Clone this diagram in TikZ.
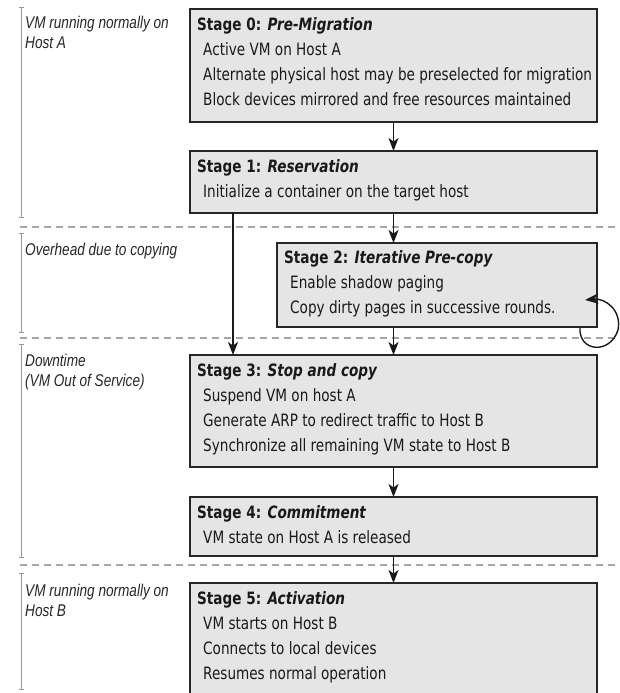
\documentclass[tikz,border=0pt]{standalone}
\usepackage{fontspec}
\setmainfont{DejaVu Sans}[FakeStretch=0.8]
\newfontfamily\labelfont{Liberation Sans}[FakeStretch=0.8]
\usetikzlibrary{arrows.meta,calc}
\begin{document}
\begin{tikzpicture}[x=1pt,y=-1pt,
  stagebox/.style={draw=black!85, line width=1.5pt, fill=gray!20, inner sep=0pt, outer sep=0pt, anchor=north west, minimum width=407pt},
  stagetext/.style={anchor=north west, inner sep=0pt, align=left, text=black!90, font=\fontsize{17}{25}\selectfont},
  lbl/.style={anchor=north west, inner sep=0pt, align=left, text=black!85, font=\labelfont\itshape\fontsize{17}{20}\selectfont},
  bracket/.style={draw=gray!80, line width=1pt, {Bar[width=5pt]}-{Bar[width=5pt]}},
  sep/.style={draw=gray!70, line width=1.2pt, dash pattern=on 7pt off 5pt},
  flow/.style={draw=black!90, line width=1.4pt, -{Stealth[length=13pt,width=10pt,inset=3.5pt]}}
]
\useasboundingbox (0,0) rectangle (620,693);
\clip (0,0) rectangle (620,693);

% separators
\draw[sep] (20,227) -- (620,227);
\draw[sep] (20,338) -- (620,338);
\draw[sep] (20,565) -- (620,565);

% brackets
\draw[bracket] (21,7) -- (21,218);
\draw[bracket] (21,233) -- (21,333);
\draw[bracket] (21,344) -- (21,558);
\draw[bracket] (21,573) -- (21,690);

% left labels
\node[lbl] (l0) at (25,16) {VM running normally on\\Host A};
\node[lbl] (l1) at (25,243) {Overhead due to copying};
\node[lbl] (l2) at (25,354) {Downtime\\(VM Out of Service)};
\node[lbl] (l3) at (25,584) {VM running normally on\\Host B};

% boxes
\node[stagebox, minimum height=113pt] (s0) at (190,9) {};
\node[stagebox, minimum height=62pt] (s1) at (190,151) {};
\node[stagebox, minimum width=320pt, minimum height=84pt] (s2) at (277,243) {};
\node[stagebox, minimum height=112pt] (s3) at (190,355) {};
\node[stagebox, minimum height=59pt] (s4) at (190,497) {};
\node[stagebox, minimum height=122pt] (s5) at (190,583) {};

% texts
\node[stagetext] (t0) at ($(s0.north west)+(7,8)$) {\textbf{Stage 0: \textit{Pre-Migration}}\\
\hspace*{6pt}Active VM on Host A\\
\hspace*{6pt}Alternate physical host may be preselected for migration\\
\hspace*{6pt}Block devices mirrored and free resources maintained};
\node[stagetext] (t1) at ($(s1.north west)+(7,8)$) {\textbf{Stage 1: \textit{Reservation}}\\
\hspace*{6pt}Initialize a container on the target host};
\node[stagetext] (t2) at ($(s2.north west)+(7,7)$) {\textbf{Stage 2: \textit{Iterative Pre-copy}}\\
\hspace*{6pt}Enable shadow paging\\
\hspace*{6pt}Copy dirty pages in successive rounds.};
\node[stagetext] (t3) at ($(s3.north west)+(7,8)$) {\textbf{Stage 3: \textit{Stop and copy}}\\
\hspace*{6pt}Suspend VM on host A\\
\hspace*{6pt}Generate ARP to redirect traffic to Host B\\
\hspace*{6pt}Synchronize all remaining VM state to Host B};
\node[stagetext] (t4) at ($(s4.north west)+(7,8)$) {\textbf{Stage 4: \textit{Commitment}}\\
\hspace*{6pt}VM state on Host A is released};
\node[stagetext] (t5) at ($(s5.north west)+(7,8)$) {\textbf{Stage 5: \textit{Activation}}\\
\hspace*{6pt}VM starts on Host B\\
\hspace*{6pt}Connects to local devices\\
\hspace*{6pt}Resumes normal operation};

% flow arrows
\draw[flow] (s0.south) -- (s1.north);
\draw[flow] (s1.south) -- (s1.south |- s2.north);
\draw[flow] ($(s1.south west)+(43,0)$) -- ($(s3.north west)+(43,0)$);
\draw[flow] (s2.south -| s3.north) -- (s3.north);
\draw[flow] (s3.south) -- (s4.north);
\draw[flow] (s4.south) -- (s5.north);
% loop
\draw[flow] ($(s2.south east)+(-17,0)$) .. controls ($(s2.south east)+(-19,25)$) and ($(s2.south east)+(13,28)$) .. ($(s2.south east)+(21,3)$)
  .. controls ($(s2.south east)+(25,-17)$) and ($(s2.south east)+(8,-29)$) .. ($(s2.east)+(-12,15)$);
\end{tikzpicture}
\end{document}
